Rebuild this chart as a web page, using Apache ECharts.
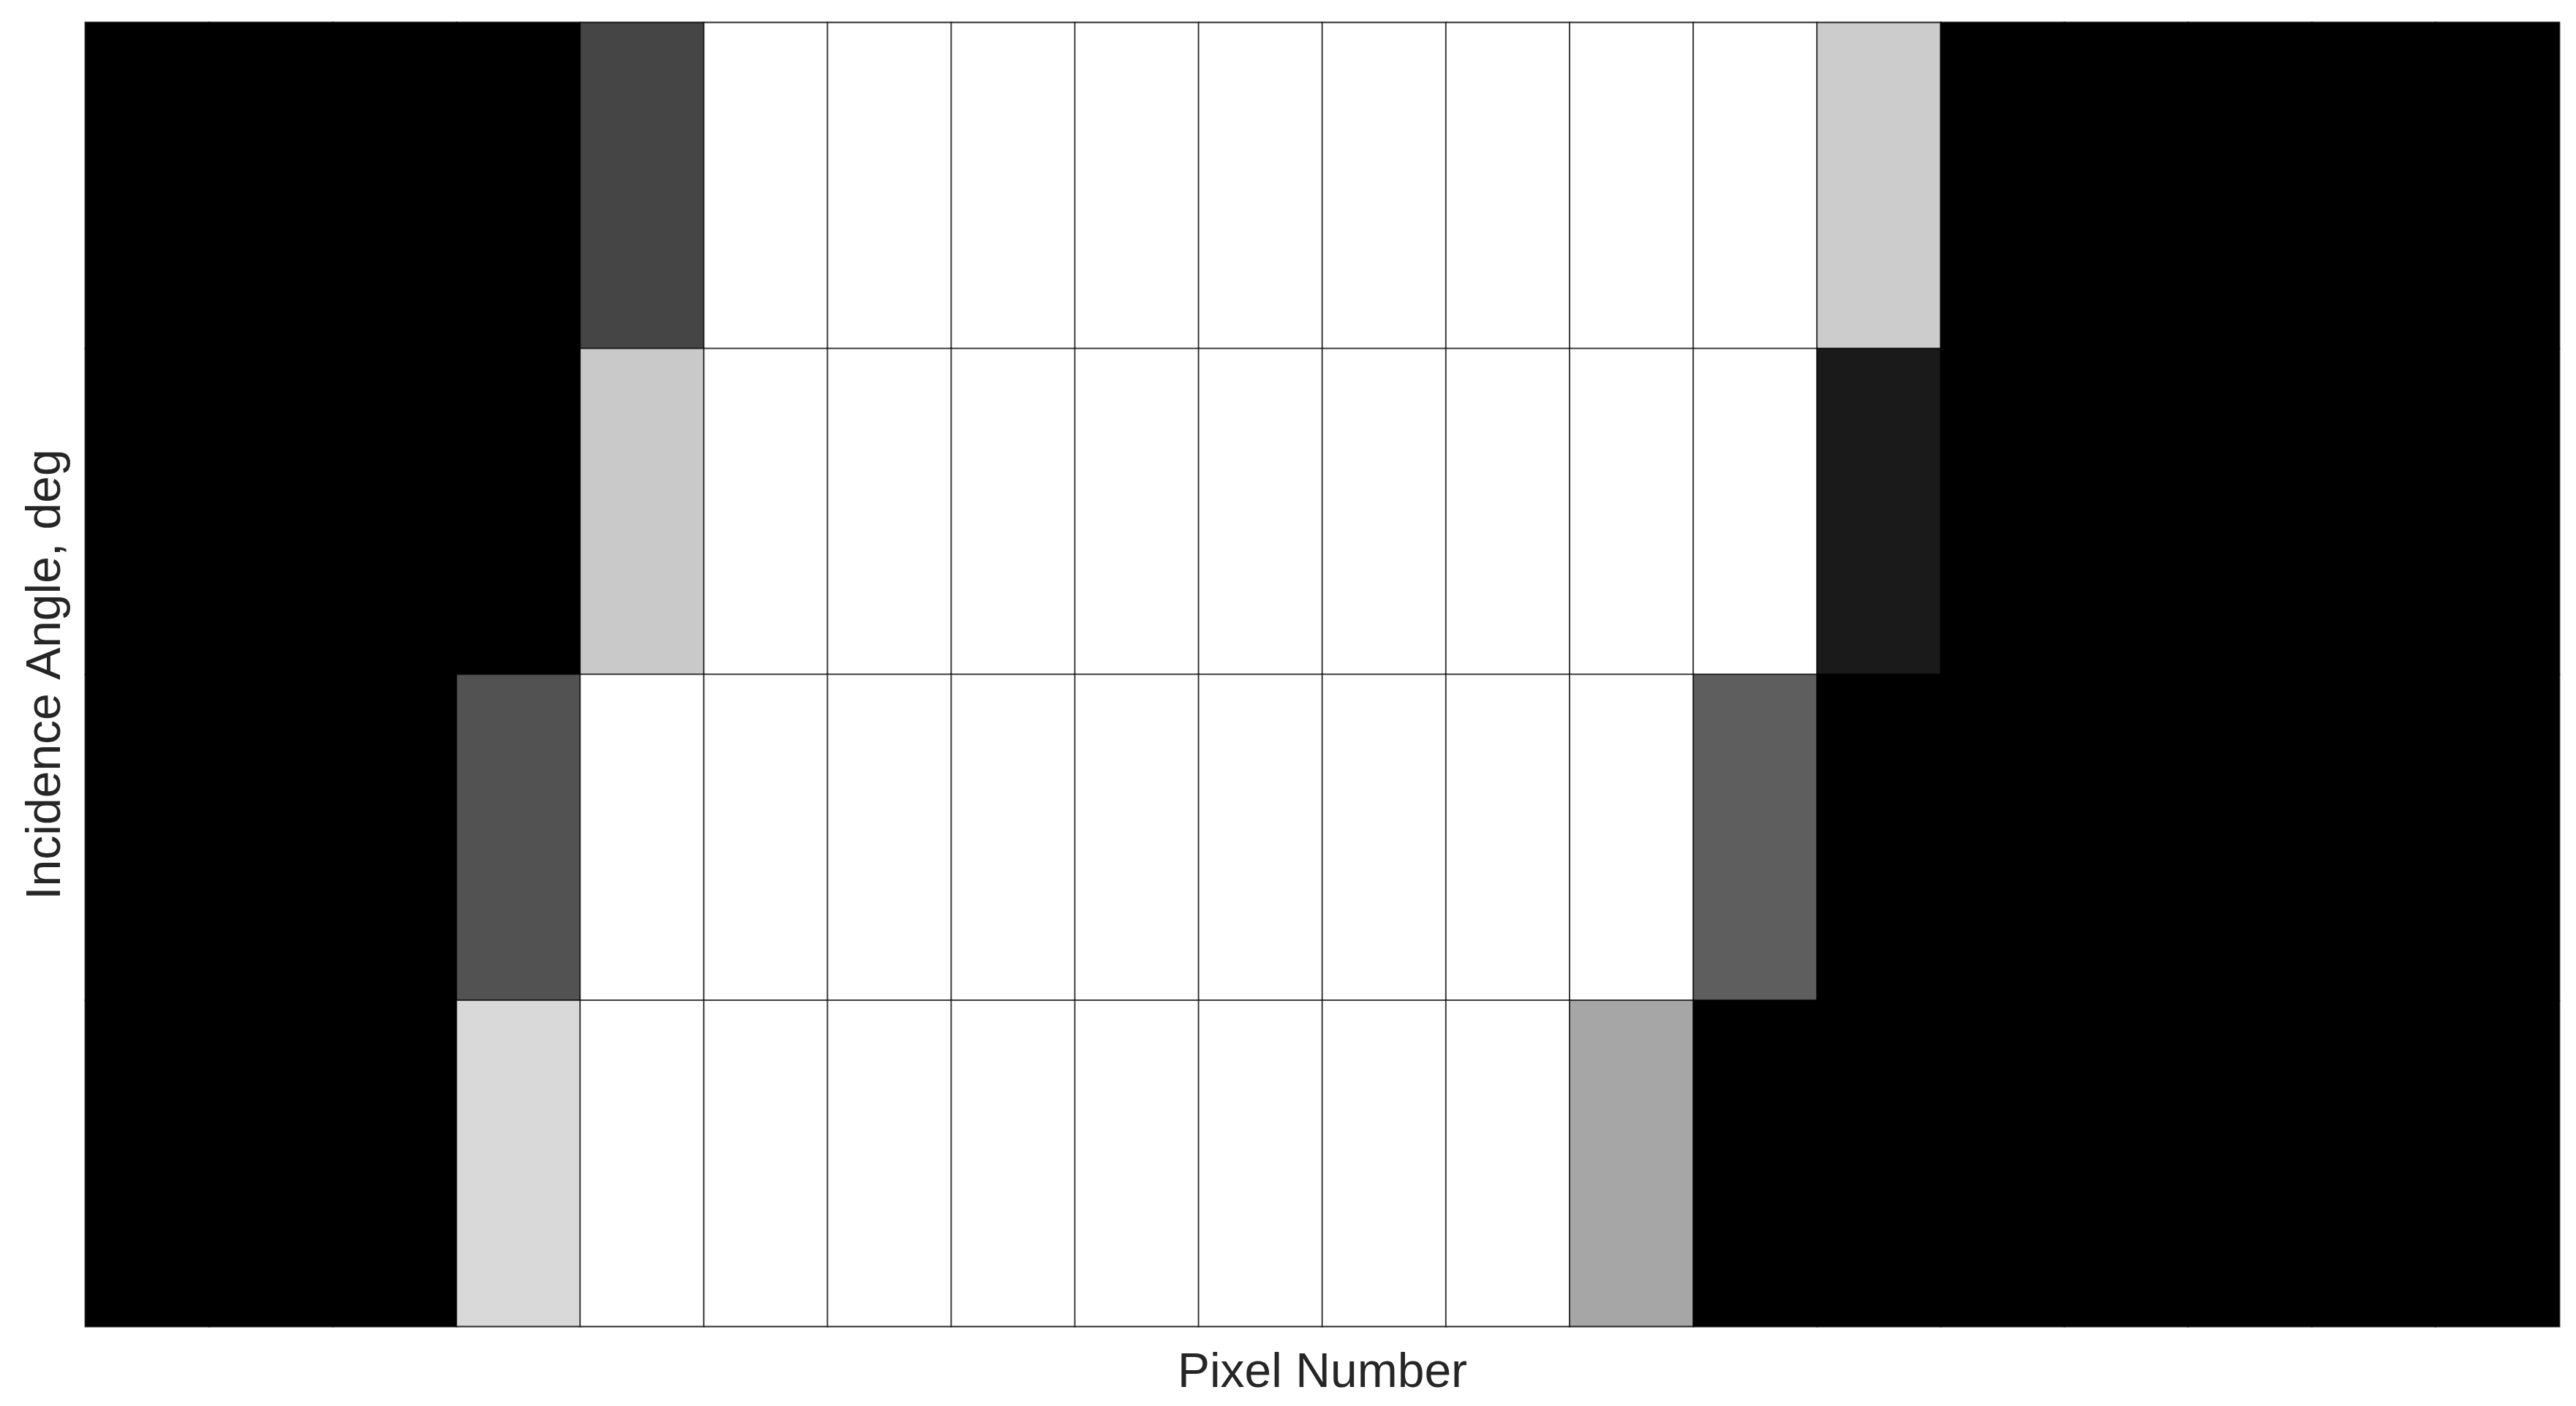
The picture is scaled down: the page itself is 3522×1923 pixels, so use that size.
<!DOCTYPE html>
<html>
<head>
<meta charset="utf-8">
<script src="https://cdn.jsdelivr.net/npm/echarts@6/dist/echarts.min.js"></script>
<style>
html,body{margin:0;padding:0;background:#fff;}
#chart{width:3522px;height:1923px;}
</style>
</head>
<body>
<div id="chart"></div>
<script>
// Pixel numbers (x categories, labels hidden in the reference)
const pixelNumbers = ['1','2','3','4','5','6','7','8','9','10','11','12','13','14','15','16','17','18','19','20'];
// Incidence angle rows, listed top to bottom (labels hidden in the reference)
const incidenceAngles = ['1','2','3','4'];
// Normalised response per row (0 = black, 1 = white), top row first
const row1 = [0,0,0,0,0.27,1,1,1,1,1,1,1,1,1,0.80,0,0,0,0,0];
const row2 = [0,0,0,0,0.79,1,1,1,1,1,1,1,1,1,0.10,0,0,0,0,0];
const row3 = [0,0,0,0.32,1,1,1,1,1,1,1,1,1,0.37,0,0,0,0,0,0];
const row4 = [0,0,0,0.85,1,1,1,1,1,1,1,1,0.65,0,0,0,0,0,0,0];
const rows = [row1, row2, row3, row4];

const data = [];
rows.forEach((r, yi) => r.forEach((v, xi) => data.push([xi, yi, v])));

const chart = echarts.init(document.getElementById('chart'), null, {renderer: 'canvas'});
const font = 'Liberation Sans, Arial, Helvetica, sans-serif';
chart.setOption({
  animation: false,
  backgroundColor: '#ffffff',
  grid: {
    left: 117, right: 23, top: 31, bottom: 109,
    show: true, borderColor: '#9a9a9a', borderWidth: 3, backgroundColor: 'transparent'
  },
  xAxis: {
    type: 'category',
    data: pixelNumbers,
    name: 'Pixel Number',
    nameLocation: 'middle',
    nameGap: 32,
    nameTextStyle: {fontSize: 66, color: '#262626', fontFamily: font},
    axisLine: {show: false},
    axisTick: {show: false},
    axisLabel: {show: false},
    splitLine: {show: false}
  },
  yAxis: {
    type: 'category',
    data: incidenceAngles,
    inverse: true,
    name: 'Incidence Angle, deg',
    nameLocation: 'middle',
    nameGap: 20,
    nameRotate: 90,
    nameTextStyle: {fontSize: 66, color: '#262626', fontFamily: font},
    axisLine: {show: false},
    axisTick: {show: false},
    axisLabel: {show: false},
    splitLine: {show: false}
  },
  visualMap: {
    show: false,
    type: 'continuous',
    min: 0, max: 1,
    dimension: 2,
    inRange: {color: ['#000000', '#ffffff']}
  },
  series: [{
    type: 'heatmap',
    data: data,
    itemStyle: {borderColor: 'rgba(0,0,0,0.7)', borderWidth: 2},
    emphasis: {disabled: true},
    label: {show: false}
  }]
});
</script>
</body>
</html>
